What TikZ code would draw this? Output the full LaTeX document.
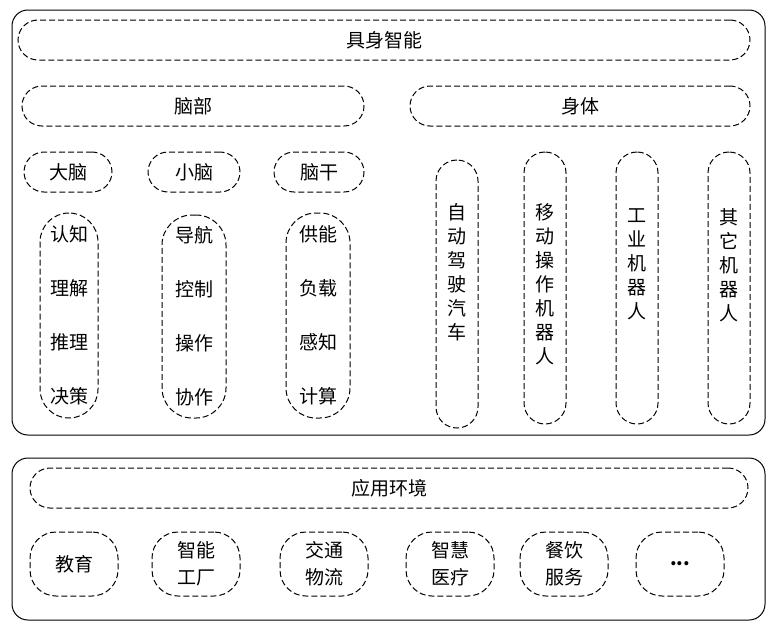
\documentclass[tikz,border=0pt]{standalone}
\usepackage{fontspec}
\setmainfont{Noto Sans CJK SC}
\begin{document}
\begin{tikzpicture}[x=1pt,y=-1pt,
  outer/.style={draw, line width=1pt, rounded corners=16pt, inner sep=0pt},
  pill/.style={draw, line width=1pt, dash pattern=on 6pt off 3pt, inner sep=0pt, align=center, font=\fontsize{19}{23}\selectfont},
  colt/.style={align=center, font=\fontsize{19}{54}\selectfont},
  vert/.style={align=center, anchor=north, font=\fontsize{19}{24}\selectfont}]
\useasboundingbox (0,0) rectangle (775,629);
\node[outer, minimum width=753pt, minimum height=425pt] (top) at (388.5,222.5) {};
\node[outer, minimum width=753pt, minimum height=162pt] (bot) at (388.5,539) {};
\node[pill, rounded corners=20pt, minimum width=732pt, minimum height=40pt] (jszn) at (384,40) {具身智能};
\node[pill, rounded corners=20pt, minimum width=342pt, minimum height=40pt] (nb) at (193,106) {脑部};
\node[pill, rounded corners=20pt, minimum width=340pt, minimum height=40pt] (st) at (580,106) {身体};
\node[pill, rounded corners=20pt, minimum width=88pt, minimum height=40pt] (dn) at (68,172) {大脑};
\node[pill, rounded corners=20pt, minimum width=92pt, minimum height=40pt] (xn) at (194,172) {小脑};
\node[pill, rounded corners=20pt, minimum width=90pt, minimum height=40pt] (ng) at (319,172) {脑干};
\node[pill, rounded corners=29pt, minimum width=58pt, minimum height=205pt] (c1) at (69,315.5) {};
\node[pill, rounded corners=30pt, minimum width=64pt, minimum height=203pt] (c2) at (194,316.5) {};
\node[pill, rounded corners=30pt, minimum width=64pt, minimum height=205pt] (c3) at (318,315.5) {};
\node[colt] (t1) at (c1) {认知\\理解\\推理\\决策};
\node[colt] (t2) at (c2) {导航\\控制\\操作\\协作};
\node[colt] (t3) at (c3) {供能\\负载\\感知\\计算};
\node[pill, rounded corners=21pt, minimum width=42pt, minimum height=268pt] (v1) at (457,294) {};
\node[pill, rounded corners=21pt, minimum width=42pt, minimum height=272pt] (v2) at (545,288) {};
\node[pill, rounded corners=21pt, minimum width=42pt, minimum height=272pt] (v3) at (637,288) {};
\node[pill, rounded corners=21pt, minimum width=42pt, minimum height=272pt] (v4) at (729,288) {};
\node[vert] (vt1) at (457,200) {自\\动\\驾\\驶\\汽\\车};
\node[vert] (vt2) at (545,200) {移\\动\\操\\作\\机\\器\\人};
\node[vert] (vt3) at (637,205) {工\\业\\机\\器\\人};
\node[vert] (vt4) at (729,205) {其\\它\\机\\器\\人};
\node[pill, rounded corners=20pt, minimum width=718pt, minimum height=40pt] (yyhj) at (389,488) {应用环境};
\foreach \x/\n/\t in {74/b1/教育, 196/b2/智能\\工厂, 324/b3/交通\\物流, 450/b4/智慧\\医疗, 564/b5/餐饮\\服务, 680/b6/\textbf{...}}
  \node[pill, rounded corners=26pt, minimum width=88pt, minimum height=64pt, font=\fontsize{19}{27}\selectfont] (\n) at (\x,564) {\t};
\end{tikzpicture}
\end{document}
